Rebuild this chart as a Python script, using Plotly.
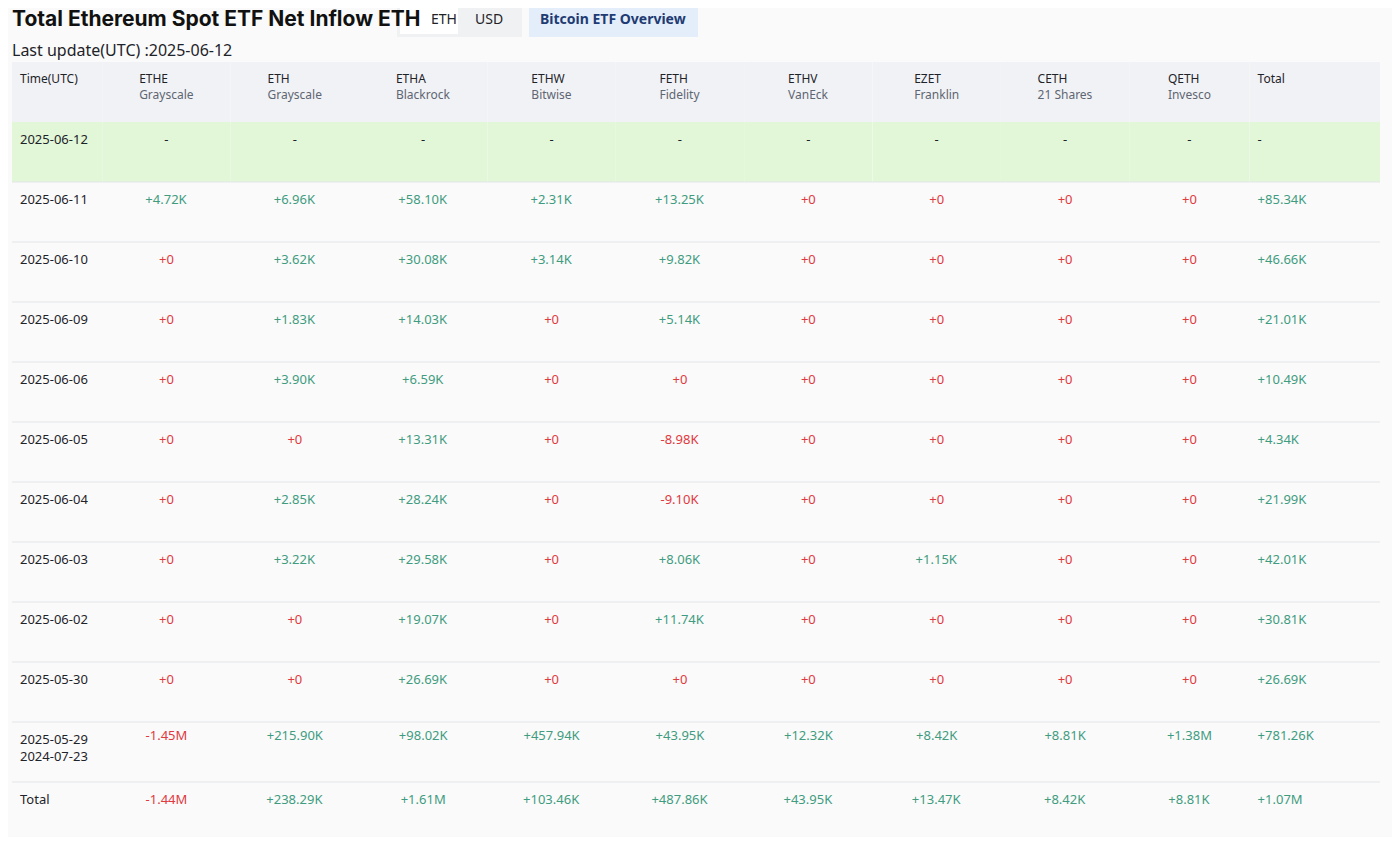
import plotly.graph_objects as go

tickers = ["ETHE", "ETH", "ETHA", "ETHW", "FETH", "ETHV", "EZET", "CETH", "QETH"]
issuers = ["Grayscale", "Grayscale", "Blackrock", "Bitwise", "Fidelity", "VanEck", "Franklin", "21 Shares", "Invesco"]
dates = ["2025-06-12", "2025-06-11", "2025-06-10", "2025-06-09", "2025-06-06", "2025-06-05",
         "2025-06-04", "2025-06-03", "2025-06-02", "2025-05-30", "2025-05-29<br>2024-07-23", "Total"]
ETHE = ["-", "+4.72K", "+0", "+0", "+0", "+0", "+0", "+0", "+0", "+0", "-1.45M", "-1.44M"]
ETH = ["-", "+6.96K", "+3.62K", "+1.83K", "+3.90K", "+0", "+2.85K", "+3.22K", "+0", "+0", "+215.90K", "+238.29K"]
ETHA = ["-", "+58.10K", "+30.08K", "+14.03K", "+6.59K", "+13.31K", "+28.24K", "+29.58K", "+19.07K", "+26.69K", "+98.02K", "+1.61M"]
ETHW = ["-", "+2.31K", "+3.14K", "+0", "+0", "+0", "+0", "+0", "+0", "+0", "+457.94K", "+103.46K"]
FETH = ["-", "+13.25K", "+9.82K", "+5.14K", "+0", "-8.98K", "-9.10K", "+8.06K", "+11.74K", "+0", "+43.95K", "+487.86K"]
ETHV = ["-", "+0", "+0", "+0", "+0", "+0", "+0", "+0", "+0", "+0", "+12.32K", "+43.95K"]
EZET = ["-", "+0", "+0", "+0", "+0", "+0", "+0", "+1.15K", "+0", "+0", "+8.42K", "+13.47K"]
CETH = ["-", "+0", "+0", "+0", "+0", "+0", "+0", "+0", "+0", "+0", "+8.81K", "+8.42K"]
QETH = ["-", "+0", "+0", "+0", "+0", "+0", "+0", "+0", "+0", "+0", "+1.38M", "+8.81K"]
TOTAL = ["-", "+85.34K", "+46.66K", "+21.01K", "+10.49K", "+4.34K", "+21.99K", "+42.01K", "+30.81K", "+26.69K", "+781.26K", "+1.07M"]

GREEN = "#3f9c80"
RED = "#e0393e"
DARK = "#1e2329"

W, H, OFF = 1384, 829, 8

def px(x):
    return (x - OFF) / W

def py(y):
    return 1 - (y - OFF) / H

def color(v):
    if v == "-":
        return DARK
    if v == "+0" or v.startswith("-"):
        return RED
    return GREEN

def pad(v):
    return v if "<br>" in v else "<br>" + v

value_cols = [ETHE, ETH, ETHA, ETHW, FETH, ETHV, EZET, CETH, QETH, TOTAL]
header = ["<br>Time(UTC)"] + [f"{t}<br><span style='color:#5e6673'>{i}</span>" for t, i in zip(tickers, issuers)] + ["<br>Total"]
cells = [[pad(d) for d in dates]] + [[pad(v) if d.count("<br>") == 0 else v for v, d in zip(col, dates)] for col in value_cols]
font_colors = [[DARK] * len(dates)] + [[color(v) for v in col] for col in value_cols]
row_fill = ["#e1f7d7"] + ["#fafafa"] * (len(dates) - 1)

fig = go.Figure(go.Table(
    domain=dict(x=[px(12), px(1380)], y=[0, py(62)]),
    columnwidth=[90] + [128] * 8 + [120, 130],
    header=dict(values=header, fill_color="#f1f2f5", line=dict(width=0),
                align=["left"] + ["center"] * 9 + ["left"], height=60,
                font=dict(family="Noto Sans", size=12, color=DARK)),
    cells=dict(values=cells, fill_color=[row_fill] * 11, line=dict(width=0),
               align=["left"] + ["center"] * 9 + ["left"], height=60,
               font=dict(family="Noto Sans", size=13, color=font_colors)),
))

shapes = []
for k in range(2, 13):
    y = py(62 + 60 * k)
    shapes.append(dict(type="line", xref="paper", yref="paper", x0=px(12), x1=px(1380),
                       y0=y, y1=y, line=dict(color="#e3e5e8", width=1), layer="above"))
shapes += [
    dict(type="rect", xref="paper", yref="paper", x0=px(397), x1=px(522), y0=py(37), y1=py(1),
         fillcolor="#f0f1f3", line=dict(width=0), layer="below"),
    dict(type="rect", xref="paper", yref="paper", x0=px(400), x1=px(458), y0=py(34), y1=py(3),
         fillcolor="#ffffff", line=dict(width=0), layer="below"),
    dict(type="rect", xref="paper", yref="paper", x0=px(529), x1=px(698), y0=py(37), y1=py(1),
         fillcolor="#e4eefa", line=dict(width=0), layer="below"),
]

annotations = [
    dict(text="<b>Total Ethereum Spot ETF Net Inflow ETH</b>", x=px(10), y=py(19), xanchor="left", yanchor="middle",
         font=dict(family="Inter", size=21, color="#111"), showarrow=False, xref="paper", yref="paper"),
    dict(text="ETH", x=px(429), y=py(18), yanchor="middle", font=dict(family="Noto Sans", size=14, color=DARK),
         showarrow=False, xref="paper", yref="paper"),
    dict(text="USD", x=px(489), y=py(18), yanchor="middle", font=dict(family="Noto Sans", size=14, color=DARK),
         showarrow=False, xref="paper", yref="paper"),
    dict(text="<b>Bitcoin ETF Overview</b>", x=px(613), y=py(18), yanchor="middle",
         font=dict(family="Noto Sans", size=14, color="#1f3b73"),
         showarrow=False, xref="paper", yref="paper"),
    dict(text="Last update(UTC) :2025-06-12", x=px(10), y=py(50), xanchor="left", yanchor="middle",
         font=dict(family="Noto Sans", size=16, color=DARK), showarrow=False, xref="paper", yref="paper"),
]

fig.update_layout(width=W, height=H, margin=dict(l=0, r=0, t=0, b=0),
                  paper_bgcolor="#fafafa", plot_bgcolor="#fafafa",
                  shapes=shapes, annotations=annotations)
fig.write_html("out.html")
